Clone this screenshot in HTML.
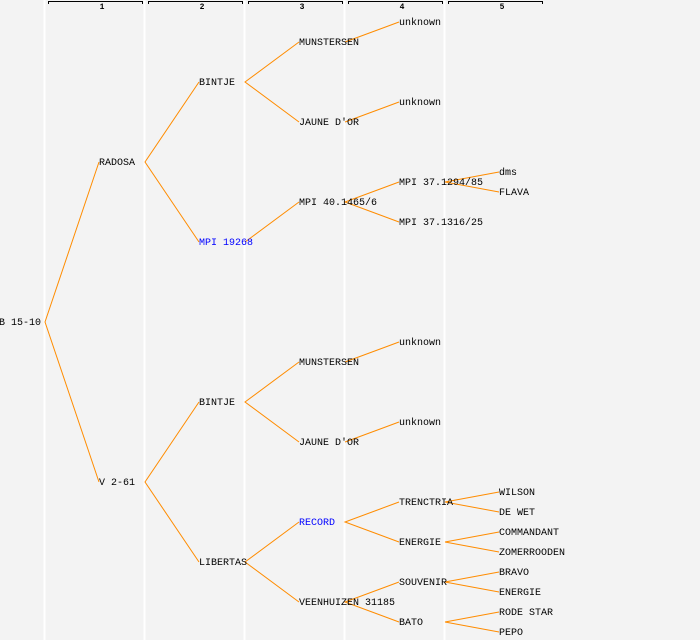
<!DOCTYPE html>
<html><head><meta charset="utf-8"><style>
html,body{margin:0;padding:0;background:#f3f3f3;}
svg{display:block}
text{font-family:"Liberation Mono","DejaVu Sans Mono",monospace;font-size:10px;fill:#000;dominant-baseline:central}
.h{font-size:8px;text-anchor:middle;font-weight:bold}
.b{fill:#0000ff}
</style></head><body>
<svg width="700" height="640" viewBox="0 0 700 640" xmlns="http://www.w3.org/2000/svg">
<rect width="700" height="640" fill="#f3f3f3"/>
<g stroke="#ffffff" stroke-width="2">
<line x1="44.5" y1="0" x2="44.5" y2="640"/>
<line x1="144.5" y1="0" x2="144.5" y2="640"/>
<line x1="244.5" y1="0" x2="244.5" y2="640"/>
<line x1="344.5" y1="0" x2="344.5" y2="640"/>
<line x1="444.5" y1="0" x2="444.5" y2="640"/>
</g>
<g stroke="#000" stroke-width="1" fill="none">
<path d="M48.5 4V1.5H142.5V4"/>
<path d="M148.5 4V1.5H242.5V4"/>
<path d="M248.5 4V1.5H342.5V4"/>
<path d="M348.5 4V1.5H442.5V4"/>
<path d="M448.5 4V1.5H542.5V4"/>
</g>
<text class="h" x="102" y="7.5">1</text>
<text class="h" x="202" y="7.5">2</text>
<text class="h" x="302" y="7.5">3</text>
<text class="h" x="402" y="7.5">4</text>
<text class="h" x="502" y="7.5">5</text>
<g stroke="#ff8c00" stroke-width="1" fill="none">
<path d="M99 162L45 322L99 482"/>
<path d="M199 82L145 162L199 242"/>
<path d="M199 402L145 482L199 562"/>
<path d="M299 42L245 82L299 122"/>
<path d="M245 242L299 202"/>
<path d="M299 362L245 402L299 442"/>
<path d="M299 522L245 562L299 602"/>
<path d="M345 42L399 22"/>
<path d="M345 122L399 102"/>
<path d="M399 182L345 202L399 222"/>
<path d="M345 362L399 342"/>
<path d="M345 442L399 422"/>
<path d="M399 502L345 522L399 542"/>
<path d="M399 582L345 602L399 622"/>
<path d="M499 172L445 182L499 192"/>
<path d="M499 492L445 502L499 512"/>
<path d="M499 532L445 542L499 552"/>
<path d="M499 572L445 582L499 592"/>
<path d="M499 612L445 622L499 632"/>
</g>
<g transform="translate(0,1.5)">
<text x="-1" y="322">B 15-10</text>
<text x="99" y="162">RADOSA</text>
<text x="99" y="482">V 2-61</text>
<text x="199" y="82">BINTJE</text>
<text x="199" y="242" class="b">MPI 19268</text>
<text x="199" y="402">BINTJE</text>
<text x="199" y="562">LIBERTAS</text>
<text x="299" y="42">MUNSTERSEN</text>
<text x="299" y="122">JAUNE D'OR</text>
<text x="299" y="202">MPI 40.1465/6</text>
<text x="299" y="362">MUNSTERSEN</text>
<text x="299" y="442">JAUNE D'OR</text>
<text x="299" y="522" class="b">RECORD</text>
<text x="299" y="602">VEENHUIZEN 31185</text>
<text x="399" y="22">unknown</text>
<text x="399" y="102">unknown</text>
<text x="399" y="182">MPI 37.1294/85</text>
<text x="399" y="222">MPI 37.1316/25</text>
<text x="399" y="342">unknown</text>
<text x="399" y="422">unknown</text>
<text x="399" y="502">TRENCTRIA</text>
<text x="399" y="542">ENERGIE</text>
<text x="399" y="582">SOUVENIR</text>
<text x="399" y="622">BATO</text>
<text x="499" y="172">dms</text>
<text x="499" y="192">FLAVA</text>
<text x="499" y="492">WILSON</text>
<text x="499" y="512">DE WET</text>
<text x="499" y="532">COMMANDANT</text>
<text x="499" y="552">ZOMERROODEN</text>
<text x="499" y="572">BRAVO</text>
<text x="499" y="592">ENERGIE</text>
<text x="499" y="612">RODE STAR</text>
<text x="499" y="632">PEPO</text>
</g>
</svg>
</body></html>
